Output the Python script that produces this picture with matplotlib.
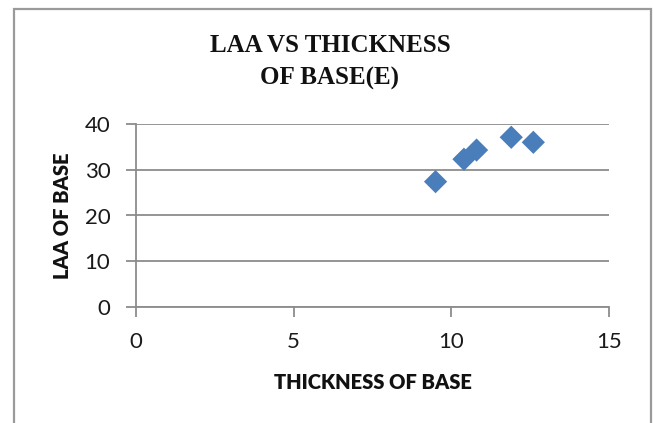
import matplotlib
matplotlib.use("Agg")
import matplotlib.pyplot as plt
from matplotlib.patches import Rectangle

thickness = [9.5, 10.4, 10.8, 11.9, 12.6]
laa = [27.4, 32.3, 34.3, 37.1, 36.0]
x_ticks = [0, 5, 10, 15]
y_ticks = [0, 10, 20, 30, 40]

W, H = 653, 423
fig = plt.figure(figsize=(W / 100, H / 100), dpi=100)
fig.patch.set_facecolor("white")

# chart border
fig.add_artist(Rectangle((14 / W, -0.05), (651 - 14) / W, 1.05 - 9 / H,
                         transform=fig.transFigure, fill=False,
                         edgecolor="#9a9a9a", linewidth=1.6))

x0, x1 = 136, 609
y0, y1 = 307, 124
ax = fig.add_axes([x0 / W, 1 - y0 / H, (x1 - x0) / W, (y0 - y1) / H])
ax.set_xlim(0, 15)
ax.set_ylim(0, 40)
ax.set_xticks(x_ticks)
ax.set_yticks(y_ticks)
for s in ["top", "right"]:
    ax.spines[s].set_visible(False)
for s in ["left", "bottom"]:
    ax.spines[s].set_color("#8c8c8c")
    ax.spines[s].set_linewidth(1.3)
ax.grid(axis="y", color="#8c8c8c", linewidth=1.3)
ax.set_axisbelow(True)
ax.tick_params(axis="both", direction="out", length=7, width=1.3,
               color="#8c8c8c", labelsize=16, labelcolor="#1a1a1a")
ax.tick_params(axis="x", pad=11)
ax.tick_params(axis="y", pad=11.5)
for lab in ax.get_xticklabels() + ax.get_yticklabels():
    lab.set_family("Lato")

ax.scatter(thickness, laa, marker="D", s=140, color="#4a7ebb",
           edgecolors="none", zorder=3, clip_on=False)

ax.set_xlabel("THICKNESS OF BASE", family="Lato", fontweight="heavy",
              fontsize=14.5, color="#111111", labelpad=15)
ax.set_ylabel("LAA OF BASE", family="Lato", fontweight="heavy",
              fontsize=14.5, color="#111111", labelpad=9)

fig.text(330 / W, 1 - 46 / H, "LAA VS THICKNESS", ha="center", va="center",
         family="Liberation Serif", fontweight="bold", fontsize=18,
         color="#111111")
fig.text(330 / W, 1 - 78 / H, "OF BASE(E)", ha="center", va="center",
         family="Liberation Serif", fontweight="bold", fontsize=18,
         color="#111111")

fig.savefig("out.png", dpi=100)
